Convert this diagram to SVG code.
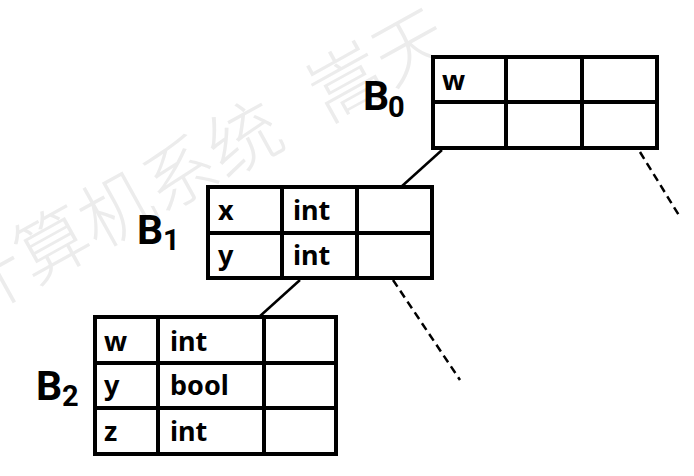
<svg xmlns="http://www.w3.org/2000/svg" width="694" height="476" viewBox="0 0 694 476">
<style>
.cell{fill:none;stroke:#000;stroke-width:4}
.grid{stroke:#000;stroke-width:4;fill:none}
.t{font-family:"Noto Sans","Open Sans",sans-serif;font-weight:bold;font-size:27px;fill:#000}
.lab{font-family:Roboto,"Liberation Sans",sans-serif;font-weight:bold;font-size:41px;fill:#000}
.sub{font-family:Roboto,"Liberation Sans",sans-serif;font-weight:bold;font-size:29px;fill:#000}
.solid{stroke:#000;stroke-width:2.5;fill:none}
.dash{stroke:#000;stroke-width:2.5;fill:none;stroke-dasharray:8 5}
.wm{font-family:"Noto Sans CJK SC",sans-serif;font-weight:300;font-size:73px;fill:#ececec}
</style>
<rect width="694" height="476" fill="#fff"/>
<g id="watermark">
<text class="wm" transform="translate(-46,293) rotate(-29)" dominant-baseline="central" xml:space="preserve">计算机系统 <tspan x="409">嵩天</tspan></text>
</g>
<g id="connectors">
<line class="solid" x1="442" y1="150" x2="401" y2="187"/>
<line class="dash" x1="640" y1="152" x2="680" y2="217"/>
<line class="solid" x1="300" y1="280" x2="259" y2="317"/>
<line class="dash" x1="393" y1="280" x2="460" y2="380"/>
</g>
<g id="B0">
<rect x="433" y="57" width="224" height="91" fill="#fff"/>
<rect class="cell" x="433" y="57" width="224" height="91"/>
<path class="grid" d="M433 102H657M506 57V148M582 57V148"/>
<text class="t" x="442" y="90">w</text>
<text class="lab" x="363" y="110">B<tspan class="sub" x="388" y="117">0</tspan></text>
</g>
<g id="B1">
<rect x="208" y="187" width="224" height="91" fill="#fff"/>
<rect class="cell" x="208" y="187" width="224" height="91"/>
<path class="grid" d="M208 233H432M282 187V278M357 187V278"/>
<text class="t" x="218" y="220">x</text>
<text class="t" x="293" y="220">int</text>
<text class="t" x="218" y="265">y</text>
<text class="t" x="293" y="265">int</text>
<text class="lab" x="137" y="244">B<tspan class="sub" x="163" y="250">1</tspan></text>
</g>
<g id="B2">
<rect x="95" y="317" width="241" height="137" fill="#fff"/>
<rect class="cell" x="95" y="317" width="241" height="137"/>
<path class="grid" d="M95 363H336M95 408H336M158 317V454M264 317V454"/>
<text class="t" x="104" y="351">w</text>
<text class="t" x="170" y="351">int</text>
<text class="t" x="104" y="395">y</text>
<text class="t" x="170" y="395">bool</text>
<text class="t" x="104" y="441">z</text>
<text class="t" x="170" y="441">int</text>
<text class="lab" x="36" y="400">B<tspan class="sub" x="62" y="406">2</tspan></text>
</g>
</svg>
